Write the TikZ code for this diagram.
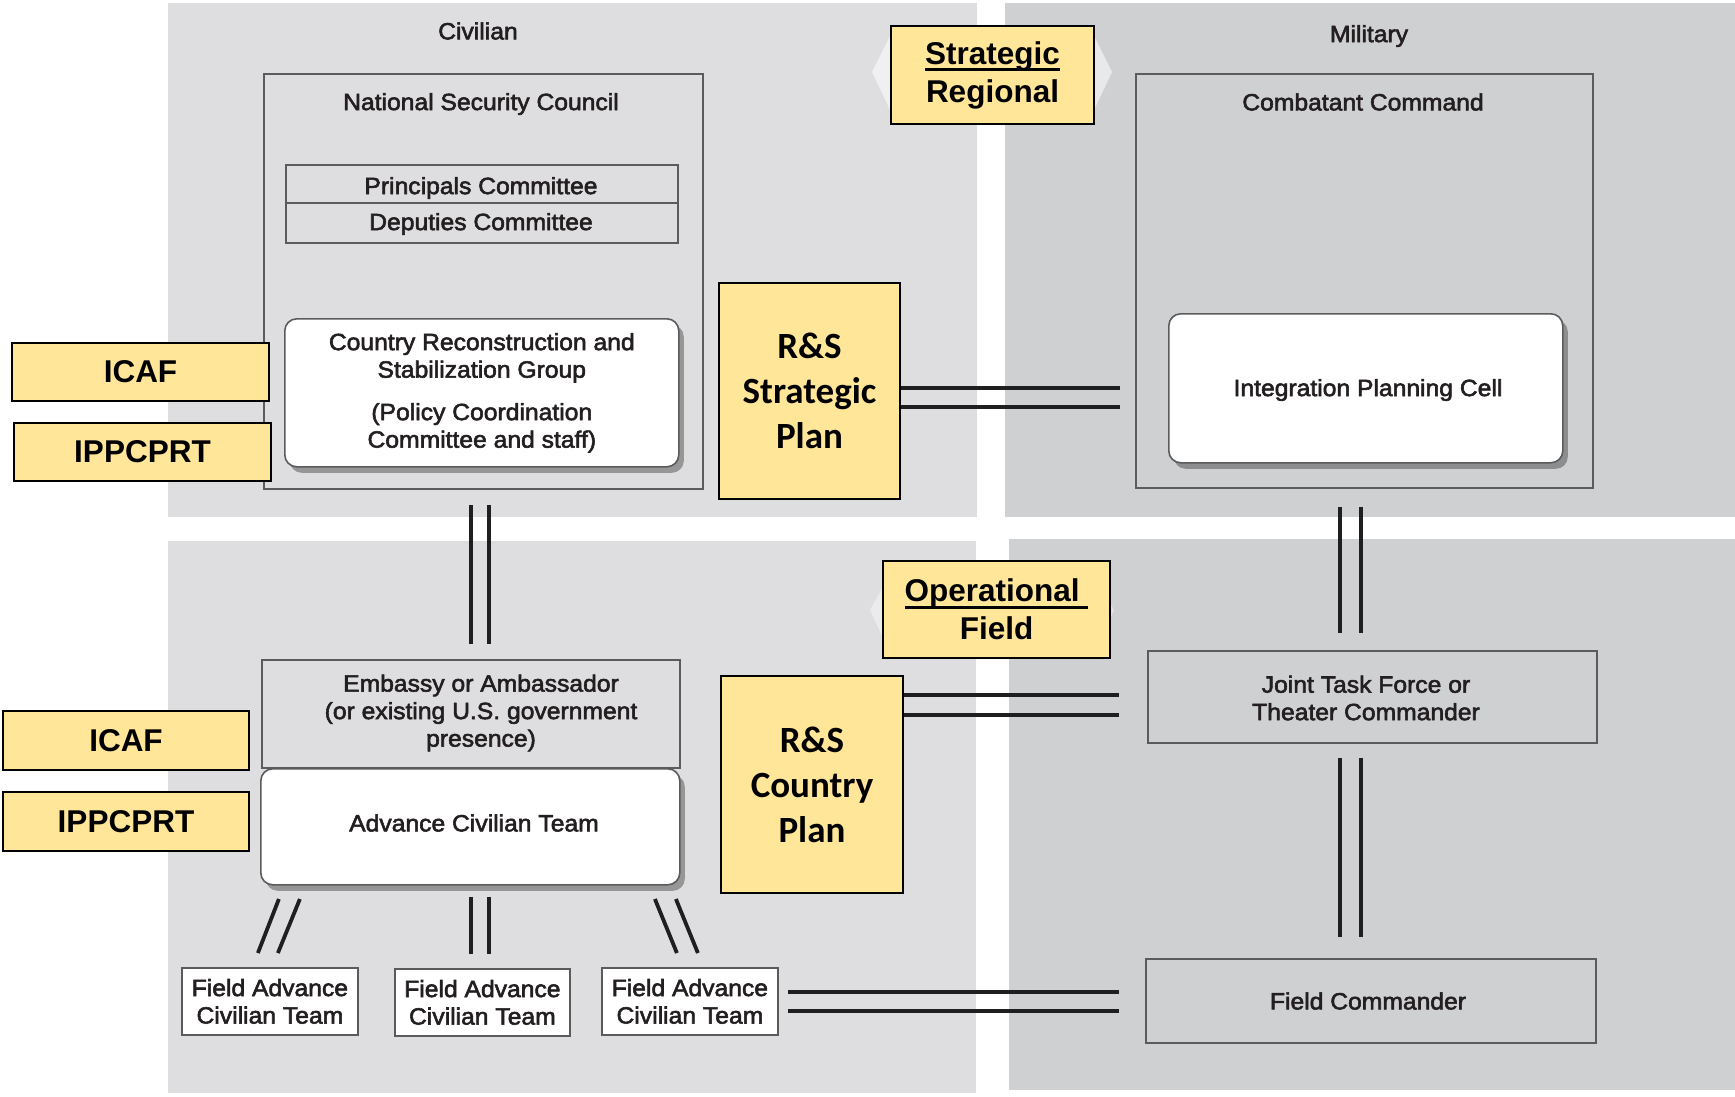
\documentclass[tikz,border=0pt]{standalone}
\usepackage{fontspec}
\setmainfont{Liberation Sans}
\newfontfamily\gfont[FakeStretch=1.05,FakeBold=2.4]{Liberation Sans}
\newfontfamily\calfont{Carlito}
\usetikzlibrary{shadows,calc}
\definecolor{civ}{HTML}{DEDEE0}
\definecolor{mil}{HTML}{CFD0D2}
\definecolor{yel}{HTML}{FFE699}
\definecolor{bord}{HTML}{5A5B5D}
\definecolor{txt}{HTML}{231F20}
\newcommand\ulx[1]{\setbox0\hbox{#1}\rlap{\rule[-7pt]{\wd0}{3pt}}\box0}
\begin{document}
\begin{tikzpicture}[x=1pt,y=-1pt,
  gtext/.style={font=\gfont\fontsize{23.5}{27.5}\selectfont, text=txt, align=center},
  gbox/.style={draw=bord, line width=1.8pt, rectangle, inner sep=0pt, anchor=north west, gtext},
  wbox/.style={draw=bord, line width=1.6pt, fill=white, rounded corners=12pt, inner sep=0pt, anchor=north west, gtext,
     drop shadow={shadow xshift=5pt, shadow yshift=-6pt, fill=black, opacity=0.32}},
  ybox/.style={draw=black, line width=2pt, fill=yel, inner sep=0pt, anchor=north west,
     font=\bfseries\fontsize{31.5}{38}\selectfont, align=center},
  cbox/.style={draw=black, line width=2pt, fill=yel, inner sep=0pt, anchor=north west,
     font=\calfont\bfseries\fontsize{37}{45}\selectfont, align=center},
  dl/.style={line width=4.5pt, draw=black!88},
  dd/.style={line width=3.8pt, draw=black!88},
]
\useasboundingbox (0,0) rectangle (1735,1096);
\fill[white] (0,0) rectangle (1735,1096);
% panels
\fill[civ] (168,3) rectangle (977,517);
\fill[mil] (1005,3) rectangle (1735,517);
\fill[civ] (168,541) rectangle (976,1093);
\fill[mil] (1009,539) rectangle (1735,1090);
% faint chevrons
\fill[white,opacity=0.55] (872,72) -- (892,32) -- (1092,32) -- (1112,72) -- (1092,114) -- (892,114) -- cycle;
\fill[white,opacity=0.4] (870,610) -- (884,585) -- (1100,585) -- (1114,610) -- (1100,640) -- (884,640) -- cycle;

\node[gtext] (civl) at (478,31) {Civilian};
\node[gtext] (mill) at (1369,36) {Military};

% upper civilian
\node[gbox, minimum width=439pt, minimum height=415pt] (nsc) at (263,73) {};
\node[gtext] (nsct) at (481,104) {National Security Council};
\node[gbox, minimum width=392pt, minimum height=38pt] (pc) at (285,164) {};
\node[gtext] (pct) at (481,188) {Principals Committee};
\node[gbox, minimum width=392pt, minimum height=40pt] (dc) at (285,202) {};
\node[gtext] (dct) at (481,224) {Deputies Committee};
\node[wbox, minimum width=394pt, minimum height=148pt] (crsg) at (284,318)
  {Country Reconstruction and\\Stabilization Group\\[15pt](Policy Coordination\\Committee and staff)};
\node[ybox, minimum width=257pt, minimum height=58pt] (icafu) at (11,342) {ICAF};
\node[ybox, minimum width=257pt, minimum height=58pt] (ippu) at (13,422) {IPPCPRT};
\node[cbox, minimum width=181pt, minimum height=216pt] (rss) at (718,282) {R\&S\\Strategic\\Plan};
\node[ybox, minimum width=203pt, minimum height=98pt] (sr) at (890,25) {\ulx{Strategic}\\Regional};

% upper military
\node[gbox, minimum width=457pt, minimum height=414pt] (cc) at (1135,73) {};
\node[gtext] (cct) at (1363,102) {Combatant Command};
\node[wbox, minimum width=394pt, minimum height=149pt] (ipc) at (1168,313) {};
\node[gtext] (ipct) at (1368,390) {Integration Planning Cell};

% lower civilian
\node[gbox, fill=civ, minimum width=418pt, minimum height=108pt] (emb) at (261,659) {};
\node[gtext] (embt) at (481,713) {Embassy or Ambassador\\(or existing U.S. government\\presence)};
\node[wbox, minimum width=419pt, minimum height=116pt] (act) at (260,768) {};
\node[gtext] (actt) at (474,823) {Advance Civilian Team};
\node[ybox, minimum width=246pt, minimum height=59pt] (icafl) at (2,710) {ICAF};
\node[ybox, minimum width=246pt, minimum height=59pt] (ippl) at (2,791) {IPPCPRT};
\node[cbox, minimum width=182pt, minimum height=217pt] (rcp) at (720,675) {R\&S\\Country\\Plan};
\node[ybox, minimum width=227pt, minimum height=97pt] (ofb) at (882,560) {\ulx{Operational\ }\\Field};
\node[gbox, fill=white, minimum width=176pt, minimum height=67pt] (fact1) at (181,967) {Field Advance\\Civilian Team};
\node[gbox, fill=white, minimum width=175pt, minimum height=67pt] (fact2) at (394,968) {Field Advance\\Civilian Team};
\node[gbox, fill=white, minimum width=176pt, minimum height=67pt] (fact3) at (601,967) {Field Advance\\Civilian Team};

% lower military
\node[gbox, minimum width=449pt, minimum height=92pt] (jtf) at (1147,650) {};
\node[gtext] (jtft) at (1366,698) {Joint Task Force or\\Theater Commander};
\node[gbox, minimum width=450pt, minimum height=84pt] (fc) at (1145,958) {};
\node[gtext] (fct) at (1368,1001) {Field Commander};

% connectors
\foreach \d in {-3,16}
  \draw[dl] ($(rss.east)+(0,\d)$) -- ($(rss.east -| cc.west)+(-15,\d)$);
\foreach \d in {-2,18}
  \draw[dl] ($(jtf.west -| rcp.east)+(0,\d)$) -- ($(jtf.west)+(-28,\d)$);
\foreach \d in {-9.5,9.5}
  \draw[dl] ($(fact3.east)+(9,\d)$) -- ($(fact3.east -| fc.west)+(-26,\d)$);
\foreach \d in {0,18}
  \draw[dl] ($(nsc.south -| emb.north)+(\d,15)$) -- ($(emb.north)+(\d,-15)$);
\foreach \d in {-24.5,-3.5}
  \draw[dl] ($(cc.south)+(\d,18)$) -- ($(cc.south |- jtf.north)+(\d,-17)$);
\foreach \d in {-32.5,-11.5}
  \draw[dl] ($(jtf.south)+(\d,14)$) -- ($(jtf.south |- fc.north)+(\d,-21)$);
\foreach \d in {0.5,18.5}
  \draw[dl] ($(act.south)+(\d,11)$) -- ($(act.south |- fact2.north)+(\d,-14)$);
\draw[dd] ($(fact1.north)+(9,-68)$) -- ($(fact1.north)+(-12,-14)$);
\draw[dd] ($(fact1.north)+(30,-68)$) -- ($(fact1.north)+(8,-14)$);
\draw[dd] ($(fact3.north)+(-35,-68)$) -- ($(fact3.north)+(-13,-14)$);
\draw[dd] ($(fact3.north)+(-14,-68)$) -- ($(fact3.north)+(8,-14)$);
\end{tikzpicture}
\end{document}
